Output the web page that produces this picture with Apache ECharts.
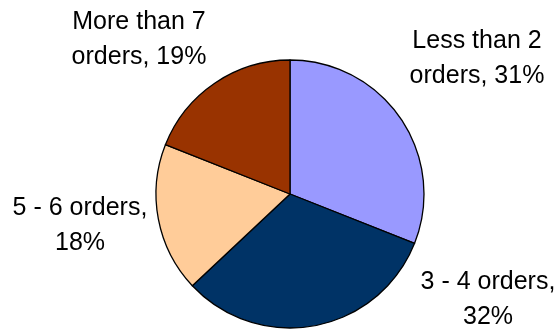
<!DOCTYPE html>
<html>
<head>
<meta charset="utf-8">
<script src="https://cdn.jsdelivr.net/npm/echarts@6/dist/echarts.min.js"></script>
<style>html,body{margin:0;padding:0;background:#fff;}#c{width:559px;height:330px;}</style>
</head>
<body>
<div id="c"></div>
<script>
const categories = ['Less than 2 orders', '3 - 4 orders', '5 - 6 orders', 'More than 7 orders'];
const percents = [31, 32, 18, 19];
const colors = ['#9999FF', '#003366', '#FFCC99', '#993300'];
// label centre positions (layout only)
const labelPos = [[477, 59], [488, 300], [80, 226], [139, 40]];

const chart = echarts.init(document.getElementById('c'), null, {renderer: 'canvas'});
chart.setOption({
  animation: false,
  backgroundColor: '#ffffff',
  series: [{
    type: 'pie',
    center: [290, 194],
    radius: 134,
    startAngle: 90,
    clockwise: true,
    avoidLabelOverlap: false,
    data: categories.map((n, i) => ({name: n, value: percents[i], itemStyle: {color: colors[i]}})),
    itemStyle: {borderColor: '#000', borderWidth: 1.3},
    emphasis: {disabled: true},
    label: {
      show: true,
      position: 'outside',
      fontFamily: 'Liberation Sans, Arial, sans-serif',
      fontSize: 25,
      lineHeight: 35,
      color: '#000',
      align: 'center',
      formatter: function (p) {
        if (/^\d/.test(p.name)) return p.name + ',\n' + p.value + '%';
        return p.name.replace(' orders', '\norders') + ', ' + p.value + '%';
      }
    },
    labelLine: {show: false},
    labelLayout: function (params) {
      const p = labelPos[params.dataIndex];
      return {x: p[0], y: p[1], align: 'center', verticalAlign: 'middle'};
    }
  }]
});
</script>
</body>
</html>
